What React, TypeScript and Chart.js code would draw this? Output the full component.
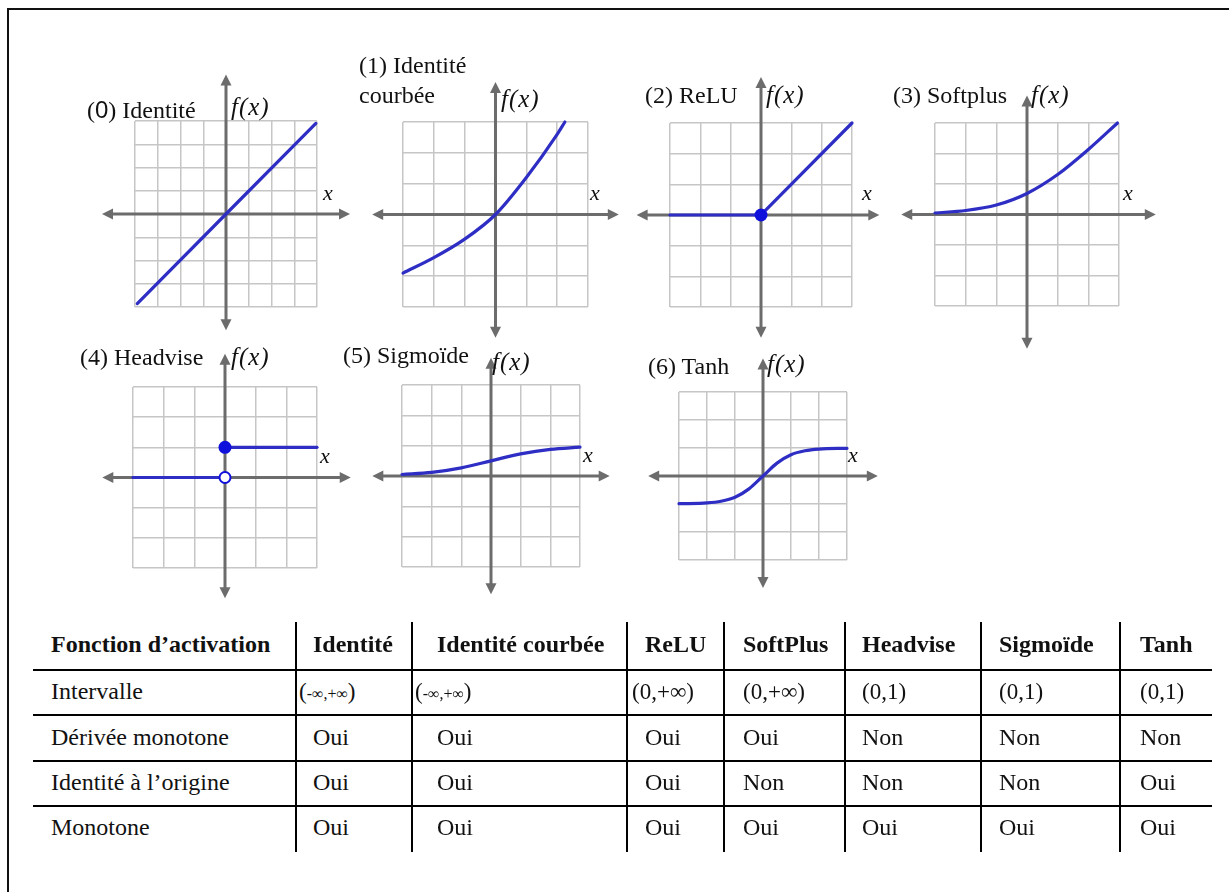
import React, { useEffect, useRef } from "react";
import { Chart, registerables } from "chart.js";

Chart.register(...registerables);

// ---------- data ----------
const identityX = [-3.9, 0, 3.95];
const identityY = [-3.85, 0, 3.9];

const bentX = [-3, -2, -1, 0, 1, 2, 2.25];
const bentY = [-1.9, -1.4, -0.8, 0, 1.2, 2.6, 3.0];

const reluX = [-3, 0, 3];
const reluY = [0, 0, 3];

const softplusX = [-3, -2, -1, 0, 1, 2, 2.95];
const softplusY = [0.05, 0.13, 0.31, 0.69, 1.31, 2.13, 3.0];

const stepLowX = [-3, 0];
const stepLowY = [0, 0];
const stepHighX = [0, 3];
const stepHighY = [1, 1];

const sigmoidX = [-3, -2, -1, 0, 1, 2, 3];
const sigmoidY = [0.05, 0.12, 0.27, 0.5, 0.73, 0.88, 0.95];

const tanhX = [-3, -2, -1.5, -1, -0.5, 0, 0.5, 1, 1.5, 2, 3];
const tanhY = [-0.99, -0.96, -0.9, -0.76, -0.46, 0, 0.46, 0.76, 0.9, 0.96, 0.99];

const panelNumbers = ["0", "1", "2", "3", "4", "5", "6"];
const panelTitles = [["Identité"], ["Identité", "courbée"], ["ReLU"], ["Softplus"], ["Headvise"], ["Sigmoïde"], ["Tanh"]];
const yAxisLabel = "f(x)";
const xAxisLabel = "x";

const tableHeader = ["Fonction d’activation", "Identité", "Identité courbée", "ReLU", "SoftPlus", "Headvise", "Sigmoïde", "Tanh"];
const rowLabels = ["Intervalle", "Dérivée monotone", "Identité à l’origine", "Monotone"];
const intervalValues = ["(-∞,+∞)", "(-∞,+∞)", "(0,+∞)", "(0,+∞)", "(0,1)", "(0,1)", "(0,1)"];
const derivativeMonotoneValues = ["Oui", "Oui", "Oui", "Oui", "Non", "Non", "Non"];
const identityOriginValues = ["Oui", "Oui", "Oui", "Non", "Non", "Non", "Oui"];
const monotoneValues = ["Oui", "Oui", "Oui", "Oui", "Oui", "Oui", "Oui"];

// ---------- styles / layout ----------
const SERIF = '"Liberation Serif", "Times New Roman", serif';
const SANS = '"Liberation Sans", Arial, sans-serif';
const CURVE = "#2e2ec4";
const DOT = "#1010dc";
const AXIS = "#6c6c6c";
const GRID = "#c6c6c6";
const PAD = 60;

type Series = { xs: number[]; ys: number[] };
type PanelLayout = {
  box: [number, number, number, number];
  half: number;
  smooth: boolean;
  ext: { xl: number; xr: number; yt: number; yb: number };
  title: { left: number; baseline: number }[];
  fx: [number, number];
  xl: [number, number];
};

const layouts: PanelLayout[] = [
  { box: [135, 121, 182, 186], half: 4, smooth: false, ext: { xl: -5.45, xr: 5.45, yt: 6.0, yb: -5.0 }, title: [{ left: 87, baseline: 118 }], fx: [231, 115], xl: [323, 200] },
  { box: [403, 122, 185, 185], half: 3, smooth: true, ext: { xl: -4.0, xr: 4.0, yt: 4.3, yb: -4.0 }, title: [{ left: 359, baseline: 73 }, { left: 359, baseline: 103 }], fx: [501, 107], xl: [590, 200] },
  { box: [670, 123, 182, 184], half: 3, smooth: false, ext: { xl: -4.1, xr: 3.9, yt: 4.5, yb: -4.0 }, title: [{ left: 645, baseline: 103 }], fx: [766, 103], xl: [862, 200] },
  { box: [935, 123, 184, 183], half: 3, smooth: true, ext: { xl: -4.1, xr: 4.2, yt: 3.9, yb: -4.4 }, title: [{ left: 893, baseline: 103 }], fx: [1031, 103], xl: [1123, 200] },
  { box: [133, 387, 184, 181], half: 3, smooth: false, ext: { xl: -4.0, xr: 4.1, yt: 4.1, yb: -4.0 }, title: [{ left: 80, baseline: 365 }], fx: [231, 365], xl: [320, 463] },
  { box: [402, 385, 178, 182], half: 3, smooth: true, ext: { xl: -4.0, xr: 4.0, yt: 3.9, yb: -3.9 }, title: [{ left: 343, baseline: 363 }], fx: [492, 370], xl: [583, 462] },
  { box: [679, 392, 168, 168], half: 3, smooth: true, ext: { xl: -4.1, xr: 4.1, yt: 4.2, yb: -4.0 }, title: [{ left: 648, baseline: 374 }], fx: [767, 372], xl: [848, 462] },
];

const panelCurves: Series[][] = [
  [{ xs: identityX, ys: identityY }],
  [{ xs: bentX, ys: bentY }],
  [{ xs: reluX, ys: reluY }],
  [{ xs: softplusX, ys: softplusY }],
  [{ xs: stepLowX, ys: stepLowY }, { xs: stepHighX, ys: stepHighY }],
  [{ xs: sigmoidX, ys: sigmoidY }],
  [{ xs: tanhX, ys: tanhY }],
];

// dots: [x, y, filled]
const panelDots: [number, number, boolean][][] = [[], [], [[0, 0, true]], [], [[0, 1, true], [0, 0, false]], [], []];

// table geometry
const tableLeft = 33;
const tableRight = 1212;
const colLines = [296, 412, 627, 724, 845, 981, 1120];
const headerTextX = [51, 313, 437, 645, 743, 862, 999, 1140];
const intervalTextX = [51, 299, 415, 632, 743, 862, 999, 1140];
const rowLines = [670, 715, 761, 806];
const rowBaselines = [652, 699, 745, 790, 835];
const tableTop = 622;
const tableBottom = 852;
const FS = 24;

function Txt(props: { left: number; baseline: number; size: number; italic?: boolean; bold?: boolean; spacing?: number; children: React.ReactNode }) {
  const { left, baseline, size, italic, bold, spacing, children } = props;
  return (
    <div
      style={{
        position: "absolute",
        left,
        top: baseline - size * 0.8375,
        fontSize: size,
        lineHeight: size + "px",
        fontFamily: SERIF,
        fontStyle: italic ? "italic" : "normal",
        fontWeight: bold ? 700 : 400,
        letterSpacing: spacing ? spacing + "px" : undefined,
        whiteSpace: "nowrap",
        color: "#111",
      }}
    >
      {children}
    </div>
  );
}

function makeAxesPlugin(ext: PanelLayout["ext"]) {
  return {
    id: "arrowAxes",
    beforeDatasetsDraw(chart: any) {
      const { ctx } = chart;
      const xs = chart.scales.x;
      const ys = chart.scales.y;
      const x0 = xs.getPixelForValue(0);
      const y0 = ys.getPixelForValue(0);
      const xl = xs.getPixelForValue(ext.xl);
      const xr = xs.getPixelForValue(ext.xr);
      const yt = ys.getPixelForValue(ext.yt);
      const yb = ys.getPixelForValue(ext.yb);
      const L = 11;
      const W = 5.5;
      ctx.save();
      ctx.strokeStyle = AXIS;
      ctx.fillStyle = AXIS;
      ctx.lineWidth = 3;
      ctx.beginPath();
      ctx.moveTo(xl + L - 1, y0);
      ctx.lineTo(xr - L + 1, y0);
      ctx.moveTo(x0, yt + L - 1);
      ctx.lineTo(x0, yb - L + 1);
      ctx.stroke();
      const tri = (ax: number, ay: number, bx: number, by: number, cx: number, cy: number) => {
        ctx.beginPath();
        ctx.moveTo(ax, ay);
        ctx.lineTo(bx, by);
        ctx.lineTo(cx, cy);
        ctx.closePath();
        ctx.fill();
      };
      tri(xl, y0, xl + L, y0 - W, xl + L, y0 + W);
      tri(xr, y0, xr - L, y0 - W, xr - L, y0 + W);
      tri(x0, yt, x0 - W, yt + L, x0 + W, yt + L);
      tri(x0, yb, x0 - W, yb - L, x0 + W, yb - L);
      ctx.restore();
    },
  };
}

function Panel({ index }: { index: number }) {
  const ref = useRef<HTMLCanvasElement>(null);
  const lay = layouts[index];
  const [gx, gy, gw, gh] = lay.box;
  const w = gw + PAD * 2;
  const h = gh + PAD * 2;

  useEffect(() => {
    if (!ref.current) return;
    const dots = panelDots[index].map(([x, y, filled]) => ({
      data: [{ x, y }],
      showLine: false,
      pointRadius: filled ? 6.5 : 5.5,
      pointBackgroundColor: filled ? DOT : "#ffffff",
      pointBorderColor: DOT,
      pointBorderWidth: filled ? 0 : 2,
      clip: false,
    }));
    const curves = panelCurves[index].map((s) => ({
      data: s.xs.map((x, i) => ({ x, y: s.ys[i] })),
      showLine: true,
      borderColor: CURVE,
      borderWidth: 3.2,
      pointRadius: 0,
      fill: false,
      tension: 0,
      cubicInterpolationMode: lay.smooth ? ("monotone" as const) : ("default" as const),
      borderCapStyle: "round" as const,
      clip: false,
    }));
    const axisOpts = (half: number) => ({
      type: "linear" as const,
      min: -half,
      max: half,
      ticks: { display: false, stepSize: 1 },
      grid: { color: GRID, lineWidth: 1.5, drawTicks: false },
      border: { display: false },
    });
    const chart = new Chart(ref.current, {
      type: "scatter",
      data: { datasets: [...dots, ...curves] as any },
      options: {
        animation: false,
        responsive: false,
        devicePixelRatio: 1,
        events: [],
        layout: { padding: PAD },
        plugins: { legend: { display: false }, tooltip: { enabled: false }, title: { display: false } },
        scales: { x: axisOpts(lay.half), y: axisOpts(lay.half) },
      } as any,
      plugins: [makeAxesPlugin(lay.ext)],
    });
    return () => chart.destroy();
  }, [index]);

  return <canvas ref={ref} width={w} height={h} style={{ position: "absolute", left: gx - PAD, top: gy - PAD, width: w, height: h }} />;
}

function PanelLabels({ index }: { index: number }) {
  const lay = layouts[index];
  const lines = panelTitles[index];
  return (
    <>
      {lines.map((t, i) => (
        <Txt key={i} left={lay.title[i].left} baseline={lay.title[i].baseline} size={FS}>
          {i === 0 ? (
            <>
              (<span style={index === 0 ? { fontFamily: SANS } : undefined}>{panelNumbers[index]}</span>) {t}
            </>
          ) : (
            t
          )}
        </Txt>
      ))}
      <Txt left={lay.fx[0]} baseline={lay.fx[1]} size={25} italic spacing={1}>
        {yAxisLabel}
      </Txt>
      <Txt left={lay.xl[0]} baseline={lay.xl[1]} size={22} italic>
        {xAxisLabel}
      </Txt>
    </>
  );
}

function IntervalText({ v }: { v: string }) {
  if (v.indexOf("-∞") >= 0) {
    return (
      <>
        (<span style={{ fontSize: 16 }}>{v.slice(1, -1)}</span>)
      </>
    );
  }
  return <>{v}</>;
}

function Table() {
  const rows = [intervalValues, derivativeMonotoneValues, identityOriginValues, monotoneValues];
  return (
    <>
      {rowLines.map((y, i) => (
        <div key={"h" + i} style={{ position: "absolute", left: tableLeft, top: y - 1.25, width: tableRight - tableLeft, height: 2.5, background: "#000" }} />
      ))}
      {colLines.map((x, i) => (
        <div key={"v" + i} style={{ position: "absolute", left: x - 1.25, top: tableTop, width: 2.5, height: tableBottom - tableTop, background: "#000" }} />
      ))}
      {tableHeader.map((t, i) => (
        <Txt key={"th" + i} left={headerTextX[i]} baseline={rowBaselines[0]} size={FS} bold>
          {t}
        </Txt>
      ))}
      {rowLabels.map((t, r) => (
        <Txt key={"rl" + r} left={headerTextX[0]} baseline={rowBaselines[r + 1]} size={FS}>
          {t}
        </Txt>
      ))}
      {rows.map((vals, r) =>
        vals.map((v, c) => (
          <Txt key={"c" + r + "-" + c} left={r === 0 ? intervalTextX[c + 1] : headerTextX[c + 1]} baseline={rowBaselines[r + 1]} size={r === 0 ? 23 : FS}>
            {r === 0 ? <IntervalText v={v} /> : v}
          </Txt>
        ))
      )}
    </>
  );
}

export default function App() {
  return (
    <div style={{ position: "absolute", left: 0, top: 0, width: 1229, height: 892, overflow: "hidden", background: "#fff" }}>
      <div style={{ position: "absolute", left: 7, top: 8, width: 1400, height: 1100, border: "2px solid #111" }} />
      {layouts.map((_, i) => (
        <Panel key={"p" + i} index={i} />
      ))}
      {layouts.map((_, i) => (
        <PanelLabels key={"l" + i} index={i} />
      ))}
      <Table />
    </div>
  );
}
